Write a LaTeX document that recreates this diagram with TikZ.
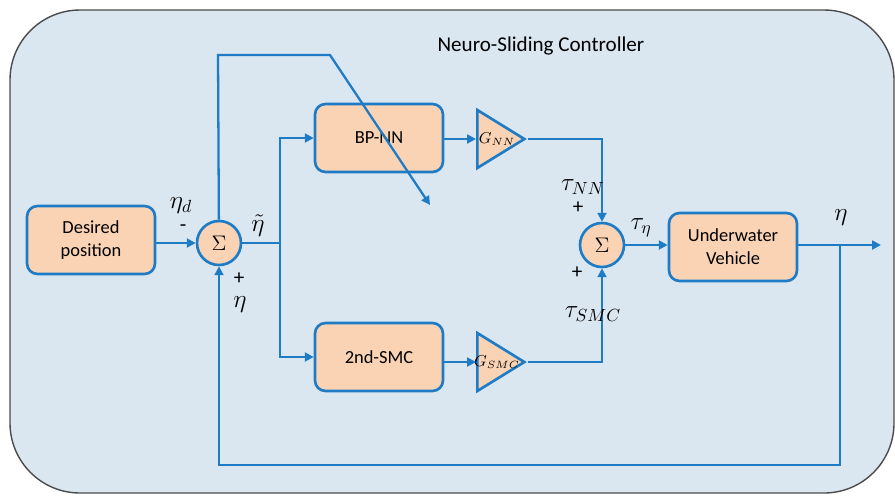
\documentclass[tikz,border=0pt]{standalone}
\usepackage{fontspec}
\setmainfont{Carlito}
\usetikzlibrary{arrows.meta,shapes.geometric}
\definecolor{bgcol}{HTML}{DAE6F0}
\definecolor{blkcol}{HTML}{FAD3B4}
\definecolor{wirecol}{HTML}{1E7BC6}

\begin{document}
\begin{tikzpicture}[x=0.02cm, y=-0.02cm,
  blk/.style={draw=wirecol, line width=1.5pt, rounded corners=6pt, fill=blkcol,
              font=\fontsize{10.5}{13}\selectfont, align=center,
              minimum width=2.56cm, minimum height=1.36cm},
  sum/.style={circle, draw=wirecol, line width=1.5pt, fill=blkcol,
              minimum size=0.88cm, inner sep=0pt, font=\large},
  gain/.style={isosceles triangle, isosceles triangle stretches, draw=wirecol,
              line width=1.5pt, fill=blkcol, inner sep=0pt, anchor=lower side,
              minimum width=1.16cm, minimum height=0.94cm},
  glbl/.style={font=\small, inner sep=0pt},
  lbl/.style={font=\Large},
  sgn/.style={font=\large},
  wire/.style={wirecol, line width=1.3pt},
  arr/.style={wire, -{Triangle[length=5pt,width=5pt]}}]
  \useasboundingbox (0,0) rectangle (895,495);
  \draw[fill=bgcol, draw=black!70, line width=0.8pt, rounded corners=1.4cm]
    (10,10) rectangle (894,493);
  \node[font=\fontsize{12}{14}\selectfont] (title) at (541,46) {Neuro-Sliding Controller};

  \node[blk] (des) at (91,240) {Desired\\position};
  \node[sum] (s1) at (219,243) {$\Sigma$};
  \node[blk] (nn) at (379,138) {BP-NN};
  \node[blk] (smc) at (379,357) {2nd-SMC};
  \node[gain] (gnn) at (476,139) {};
  \node[glbl] (gnnl) at (497,139) {$G_{NN}$};
  \node[gain] (gsmc) at (476,362) {};
  \node[glbl] (gsmcl) at (497,362) {$G_{SMC}$};
  \node[sum] (s2) at (602,245) {$\Sigma$};
  \node[blk] (uv) at (733,247) {Underwater\\Vehicle};

  \coordinate (br) at (280,243);
  \coordinate (tl) at (218,55);
  \coordinate (tr) at (330,55);
  \coordinate (te) at (430,205);
  \coordinate (jn) at (840,245);
  \coordinate (out) at (881,245);
  \coordinate (fb) at (840,465);

  \draw[arr] (des.east |- s1) -- (s1);
  \draw[wire] (s1) -- (br);
  \draw[arr] (br) |- (nn);
  \draw[arr] (br) |- (smc);
  \draw[arr] (s1) -- (tl) -- (tr) -- (te);
  \draw[arr] (nn.east |- gnn.lower side) -- (gnn.lower side);
  \draw[arr] (smc.east |- gsmc.lower side) -- (gsmc.lower side);
  \draw[arr] (gnn.apex) -| (s2);
  \draw[arr] (gsmc.apex) -| (s2);
  \draw[arr] (s2) -- (uv.west |- s2);
  \draw[arr] (uv.east |- s2) -- (out);
  \draw[arr] (jn) -- (fb) -| (s1);

  \node[lbl] (etad) at (181,206) {$\eta_d$};
  \node[sgn] (m1) at (183,228) {-};
  \node[sgn] (p1) at (239,279) {+};
  \node[lbl] (eta1) at (240,305) {$\eta$};
  \node[lbl] (etat) at (258,226) {$\tilde{\eta}$};
  \node[lbl] (tnn) at (583,187) {$\tau_{NN}$};
  \node[sgn] (p2) at (578,208) {+};
  \node[sgn] (p3) at (577,273) {+};
  \node[lbl] (tsmc) at (593,314) {$\tau_{SMC}$};
  \node[lbl] (teta) at (641,228) {$\tau_\eta$};
  \node[lbl] (eta2) at (841,218) {$\eta$};
\end{tikzpicture}
\end{document}
